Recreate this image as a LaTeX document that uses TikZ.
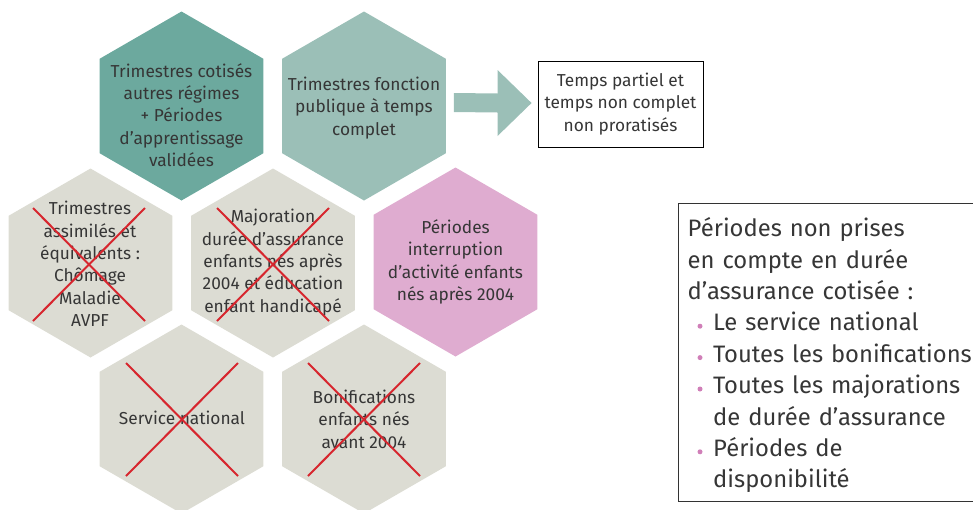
\documentclass[tikz,border=0pt]{standalone}
\usepackage{fontspec}
\setmainfont{Fira Sans}
\usetikzlibrary{shapes.geometric,calc}
\definecolor{tealD}{HTML}{6CA99E}
\definecolor{tealL}{HTML}{9BBFB7}
\definecolor{grayH}{HTML}{DCDCD3}
\definecolor{pinkH}{HTML}{DFACD0}
\definecolor{bulc}{HTML}{D07FB8}
\definecolor{redX}{HTML}{D7262E}
\definecolor{txt}{HTML}{363636}
\newcommand{\bulslot}{\hspace*{25.5pt}}
\begin{document}
\begin{tikzpicture}[x=1pt,y=-1pt,
  hexa/.style={regular polygon, regular polygon sides=6, shape border rotate=90,
    minimum size=189pt, inner sep=0pt, outer sep=0pt, draw=none},
  hext/.style={align=center, text=txt, font=\fontsize{17.3}{22.4}\selectfont, inner sep=0pt},
  xcross/.style={draw=redX, line width=2pt},
  smallbox/.style={draw=black, line width=0.9pt, minimum width=165pt, minimum height=86pt,
    align=center, text=txt, font=\fontsize{17.3}{22.8}\selectfont, inner sep=0pt},
  bigbox/.style={draw=black!80, line width=1.1pt, anchor=north west, minimum height=298pt,
    minimum width=330pt, inner sep=0pt},
  bigtext/.style={anchor=north west, text width=290pt, inner sep=0pt, align=left, text=txt,
    font=\fontsize{23.8}{31.4}\selectfont},
  bulletdot/.style={fill=bulc}
]
\useasboundingbox (0,0) rectangle (973,509);
% hexagons
\node[hexa, fill=tealD] (h1) at (181.5,106) {};
\node[hexa, fill=tealL] (h2) at (364,106) {};
\node[hexa, fill=grayH] (h4) at (90.5,263) {};
\node[hexa, fill=grayH] (h5) at (273,263) {};
\node[hexa, fill=pinkH] (h6) at (455.5,262) {};
\node[hexa, fill=grayH] (h7) at (181.5,419) {};
\node[hexa, fill=grayH] (h8) at (364,419) {};
% texts
\node[hext] (t1) at (181.5,115) {Trimestres cotisés\\autres régimes\\+ Périodes\\d’apprentissage\\validées};
\node[hext] (t2) at (364,108) {Trimestres fonction\\publique à temps\\complet};
\node[hext] (t4) at (90,264) {Trimestres\\assimilés et\\équivalents :\\Chômage\\Maladie\\AVPF};
\node[hext] (t5) at (273,262.5) {Majoration\\durée d’assurance\\enfants nés après\\2004 et éducation\\enfant handicapé};
\node[hext] (t6) at (455.5,262) {Périodes\\interruption\\d’activité enfants\\nés après 2004};
\node[hext] (t7) at (182,418) {Service national};
\node[hext] (t8) at (364,419) {Bonifications\\enfants nés\\avant 2004};
% crosses
\foreach \c/\dx/\dy in {h4/-1.5/1.5, h5/0/1.5, h7/0.5/0.5, h8/0/0.5}{
  \coordinate (cc) at ($(\c)+(\dx,\dy)$);
  \draw[xcross] ($(cc)+(-56,-56.5)$) -- ($(cc)+(56,56.5)$);
  \draw[xcross] ($(cc)+(-56,56.5)$) -- ($(cc)+(56,-56.5)$);
}
% small box and arrow
\node[smallbox] (b1) at (620.5,104) {Temps partiel et\\temps non complet\\non proratisés};
\coordinate (as) at ($(h2.east)+(8,-3.5)$);
\coordinate (ae) at ($(b1.west)+(-6,-1)$);
\fill[tealL] ($(as)+(0,-9.5)$) -- ($(ae)+(-34,-9.5)$) -- ($(ae)+(-34,-33)$) -- (ae)
  -- ($(ae)+(-34,33)$) -- ($(ae)+(-34,9.5)$) -- ($(as)+(0,9.5)$) -- cycle;
% big box
\node[bigbox] (b2) at (678,203) {};
\node[bigtext] (b2t) at ($(b2.north west)+(9.5,13.5)$) {\rule{0pt}{20pt}Périodes non prises\\en compte en durée\\d’assurance cotisée :\\
\bulslot Le service national\\
\bulslot Toutes les bonifications\\
\bulslot Toutes les majorations\\
\bulslot de durée d’assurance\\
\bulslot Périodes de\\
\bulslot disponibilité};
\foreach \k in {3,4,5,7}{
  \fill[bulletdot] ($(b2t.north west)+(12.5,20-4.5+31.4*\k)$) circle (2.5);
}
\end{tikzpicture}
\end{document}
